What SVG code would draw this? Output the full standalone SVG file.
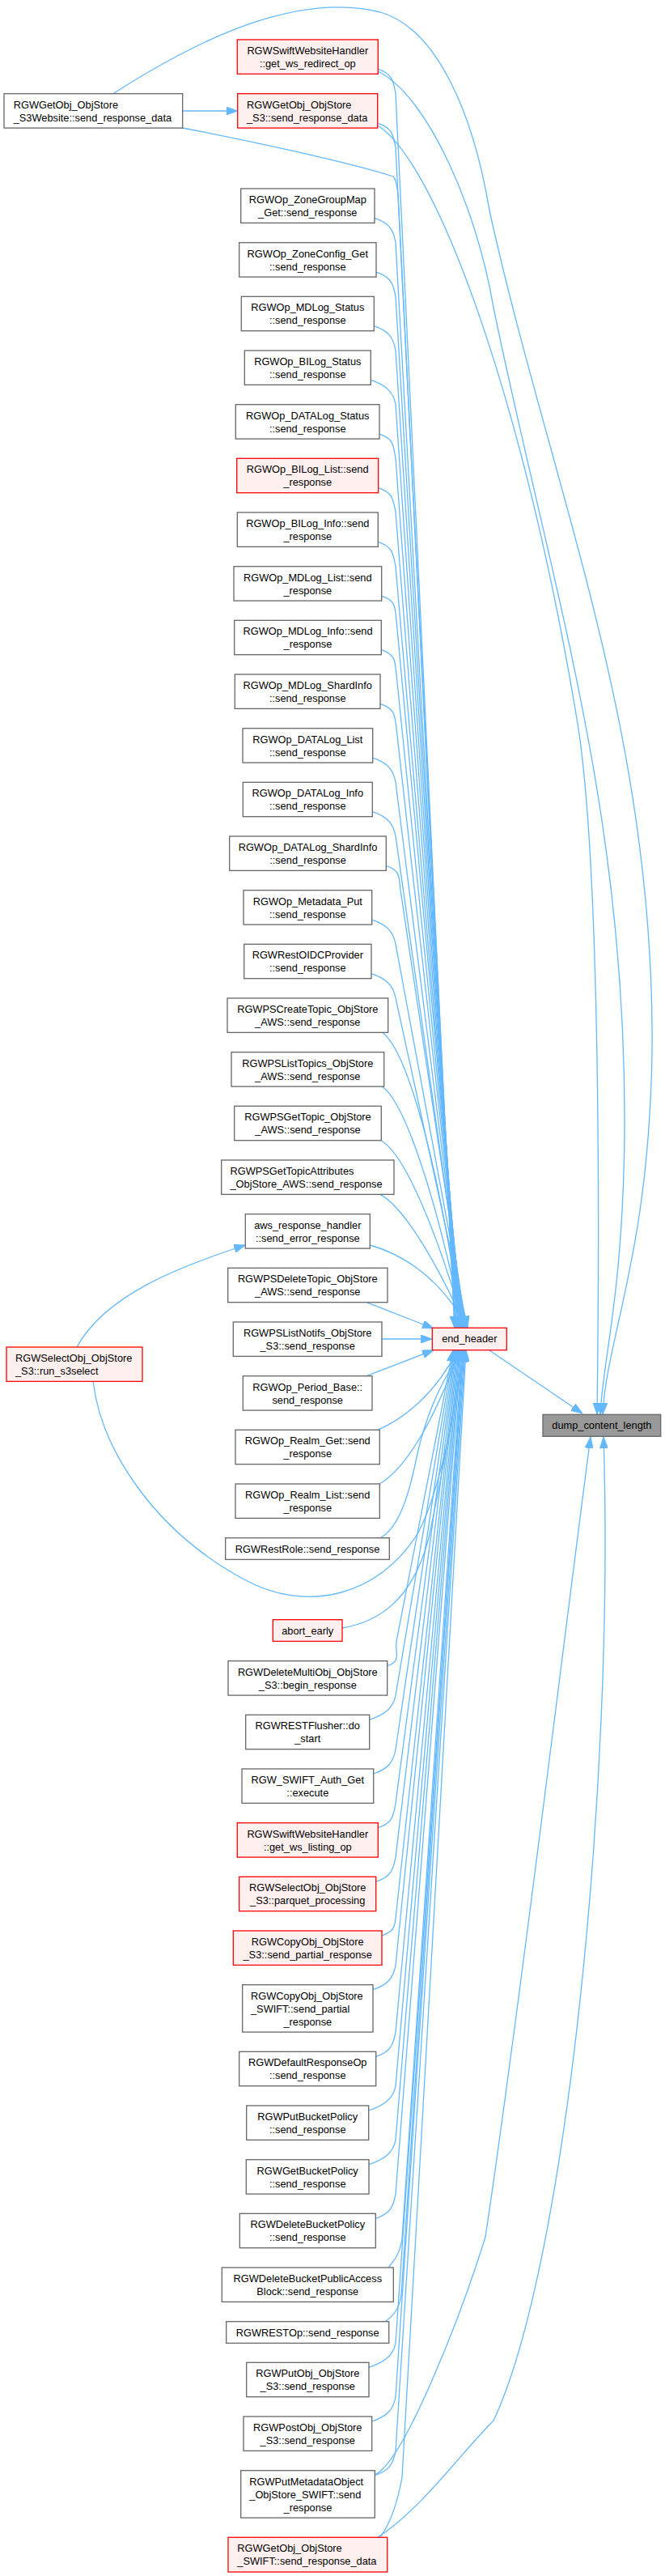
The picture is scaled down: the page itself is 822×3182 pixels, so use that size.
<svg xmlns="http://www.w3.org/2000/svg" width="822" height="3182" viewBox="0 0 822 3182">
<style>
rect{stroke-width:1.3}
.n rect{fill:#fff;stroke:#666}
.r rect{fill:#fff0f0;stroke:#f00}
.root rect{fill:#999;stroke:#666}
text{font-family:"Liberation Sans",Arial,sans-serif;font-size:12.8px;fill:#000}
.c{text-anchor:middle}
#edges path{fill:none;stroke:#63b8ff;stroke-width:1.3;marker-end:url(#ah)}
</style>
<defs>
<marker id="ah" viewBox="0 0 14 10" refX="14" refY="5" markerWidth="14" markerHeight="10" markerUnits="userSpaceOnUse" orient="auto"><path d="M0,0 L14,5 L0,10 z" fill="#63b8ff" stroke="#63b8ff" stroke-width="1"/></marker>
</defs>
<rect x="0" y="0" width="822" height="3182" fill="#fff"/>
<g id="edges">
<path d="M225.7,137 L293.7,137"/>
<path d="M220,157 C300,172 430,200 486,218 C490,222 491,230 492,240 L562,1640"/>
<path d="M140,115.7 C250,45 370,-10 470,15 C540,35 585,140 605,260 C680,600 810,900 806,1300 C802,1550 750,1650 745,1747"/>
<path d="M467.3,88 C530,120 590,260 610,380 C680,720 775,1000 772,1400 C770,1600 745,1680 742,1747"/>
<path d="M466.7,155 C540,200 650,500 715,900 C745,1100 740,1600 738,1747"/>
<path d="M467.3,85.4 C485.3,91.4 486,99.4 489,115.4 L562,1640"/>
<path d="M466.7,152.1 C484.7,158.1 486,166.1 489,182.1 L563,1640"/>
<path d="M463,269.4 C481,275.4 486,283.4 489,299.4 L564,1640"/>
<path d="M465,336.1 C483,342.1 486,350.1 489,366.1 L565,1640"/>
<path d="M462.3,402.7 C480.3,408.7 486,416.7 489,432.7 L566,1640"/>
<path d="M458.3,469.4 C476.3,475.4 486,483.4 489,499.4 L567,1640"/>
<path d="M469,536.1 C487,542.1 486,550.1 489,566.1 L568,1640"/>
<path d="M467.7,602.7 C485.7,608.7 486,616.7 489,632.7 L569,1640"/>
<path d="M467.3,669.4 C485.3,675.4 486,683.4 489,699.4 L570,1640"/>
<path d="M471.7,736.1 C489.7,742.1 488,750.1 490,766.1 L571,1640"/>
<path d="M471.3,802.7 C489.3,808.7 488,816.7 490,832.7 L572,1640"/>
<path d="M470,869.4 C488,875.4 488,883.4 490,899.4 L573,1640"/>
<path d="M460.7,936.1 C478.7,942.1 486,950.1 489,966.1 L574,1640"/>
<path d="M460.3,1002.7 C478.3,1008.7 486,1016.7 489,1032.7 L575,1640"/>
<path d="M477.3,1069.4 C495.3,1075.4 493,1083.4 495,1099.4 L576,1640"/>
<path d="M459.7,1136.1 C477.7,1142.1 486,1150.1 489,1166.1 L577,1640"/>
<path d="M459,1202.7 C477,1208.7 486,1216.7 489,1232.7 L578,1640"/>
<path d="M473,1275.4 C505,1300 545,1450 570,1640"/>
<path d="M472,1342 C500,1360 540,1480 572,1640"/>
<path d="M471,1408.7 C500,1425 540,1520 574,1640"/>
<path d="M470,1475.4 C500,1492 540,1560 576,1640"/>
<path d="M457.3,1538 C500,1550 545,1580 578,1640"/>
<path d="M453,1608.7 L536,1641"/>
<path d="M472,1654 L534.3,1654"/>
<path d="M453,1699.7 L536,1667.7"/>
<path d="M467,1766.3 C500,1752 540,1720 565,1668"/>
<path d="M469.3,1833 C500,1815 535,1760 568,1668"/>
<path d="M470,1899.7 C492,1888 505,1850 515,1800 C528,1740 550,1700 571,1668"/>
<path d="M95,1664 C130,1600 220,1565 303.3,1538"/>
<path d="M115,1706 C125,1790 190,1890 300,1950 C380,1995 470,1970 517,1893 C545,1840 562,1740 574,1668"/>
<path d="M423,2011 C470,2003 510,1975 530,1900 C545,1830 560,1740 576,1668"/>
<path d="M478.7,2057.7 C496.7,2051.7 488,2043.7 490,2027.7 L560,1668"/>
<path d="M456.7,2124.3 C474.7,2118.3 486,2110.3 489,2094.3 L561,1668"/>
<path d="M461.7,2191 C479.7,2185 486,2177 489,2161 L562,1668"/>
<path d="M467.3,2257.7 C485.3,2251.7 486,2243.7 489,2227.7 L563,1668"/>
<path d="M464.7,2324.3 C482.7,2318.3 486,2310.3 489,2294.3 L564,1668"/>
<path d="M472,2391 C490,2385 488,2377 490,2361 L565,1668"/>
<path d="M461,2457.7 C479,2451.7 486,2443.7 489,2427.7 L566,1668"/>
<path d="M464.7,2540.3 C482.7,2534.3 486,2526.3 489,2510.3 L567,1668"/>
<path d="M455.7,2607 C473.7,2601 486,2593 489,2577 L568,1668"/>
<path d="M456,2673.7 C474,2667.7 486,2659.7 489,2643.7 L569,1668"/>
<path d="M464.3,2740.3 C482.3,2734.3 486,2726.3 489,2710.3 L570,1668"/>
<path d="M480,2801 C490,2790 495,2780 497,2765 L571,1668"/>
<path d="M476,2867.7 C488,2860 494,2850 496,2835 L572,1668"/>
<path d="M456,2924.3 C474,2918.3 486,2910.3 489,2894.3 L573,1668"/>
<path d="M459.7,2991 C477.7,2985 486,2977 489,2961 L574,1668"/>
<path d="M463.3,3057.7 C481.3,3051.7 486,3043.7 489,3027.7 L575,1668"/>
<path d="M470,3134.3 C480,3120 490,3100 497,3060 L576,1668"/>
<path d="M605,1668 L720,1746"/>
<path d="M467,3134 C520,3100 570,3030 610,2990 C700,2800 760,2200 746,1775"/>
<path d="M463.3,3057 C500,3040 570,2860 600,2763 C640,2500 700,2000 730,1775"/>
</g>
<g id="L1" class="n"><rect x="5" y="115.7" width="220.7" height="42.4"/><text x="16.7" y="133.5">RGWGetObj_ObjStore</text><text x="16.7" y="149.5">_S3Website::send_response_data</text></g>
<g id="L2" class="r"><rect x="8" y="1664" width="168" height="42.4"/><text x="19" y="1681.8">RGWSelectObj_ObjStore</text><text x="19" y="1697.8">_S3::run_s3select</text></g>
<g id="n1" class="r"><rect x="293.3" y="49" width="174" height="42.4"/><text class="c" x="380.3" y="66.8">RGWSwiftWebsiteHandler</text><text class="c" x="380.3" y="82.8">::get_ws_redirect_op</text></g>
<g id="n2" class="r"><rect x="293.7" y="115.7" width="173" height="42.4"/><text x="305" y="133.5">RGWGetObj_ObjStore</text><text x="305" y="149.5">_S3::send_response_data</text></g>
<g id="n3" class="n"><rect x="297.7" y="233" width="165.3" height="42.4"/><text class="c" x="380.3" y="250.8">RGWOp_ZoneGroupMap</text><text class="c" x="380.3" y="266.8">_Get::send_response</text></g>
<g id="n4" class="n"><rect x="295.7" y="299.7" width="169.3" height="42.4"/><text class="c" x="380.3" y="317.5">RGWOp_ZoneConfig_Get</text><text class="c" x="380.3" y="333.5">::send_response</text></g>
<g id="n5" class="n"><rect x="298.3" y="366.3" width="164" height="42.4"/><text class="c" x="380.3" y="384.1">RGWOp_MDLog_Status</text><text class="c" x="380.3" y="400.1">::send_response</text></g>
<g id="n6" class="n"><rect x="302.3" y="433" width="156" height="42.4"/><text class="c" x="380.3" y="450.8">RGWOp_BILog_Status</text><text class="c" x="380.3" y="466.8">::send_response</text></g>
<g id="n7" class="n"><rect x="291.3" y="499.7" width="177.7" height="42.4"/><text class="c" x="380.2" y="517.5">RGWOp_DATALog_Status</text><text class="c" x="380.2" y="533.5">::send_response</text></g>
<g id="n8" class="r"><rect x="292.7" y="566.3" width="175" height="42.4"/><text class="c" x="380.2" y="584.1">RGWOp_BILog_List::send</text><text class="c" x="380.2" y="600.1">_response</text></g>
<g id="n9" class="n"><rect x="293.3" y="633" width="174" height="42.4"/><text class="c" x="380.3" y="650.8">RGWOp_BILog_Info::send</text><text class="c" x="380.3" y="666.8">_response</text></g>
<g id="n10" class="n"><rect x="289" y="699.7" width="182.7" height="42.4"/><text class="c" x="380.3" y="717.5">RGWOp_MDLog_List::send</text><text class="c" x="380.3" y="733.5">_response</text></g>
<g id="n11" class="n"><rect x="289.7" y="766.3" width="181.6" height="42.4"/><text class="c" x="380.5" y="784.1">RGWOp_MDLog_Info::send</text><text class="c" x="380.5" y="800.1">_response</text></g>
<g id="n12" class="n"><rect x="290.3" y="833" width="179.7" height="42.4"/><text class="c" x="380.2" y="850.8">RGWOp_MDLog_ShardInfo</text><text class="c" x="380.2" y="866.8">::send_response</text></g>
<g id="n13" class="n"><rect x="300" y="899.7" width="160.7" height="42.4"/><text class="c" x="380.3" y="917.5">RGWOp_DATALog_List</text><text class="c" x="380.3" y="933.5">::send_response</text></g>
<g id="n14" class="n"><rect x="300.3" y="966.3" width="160" height="42.4"/><text class="c" x="380.3" y="984.1">RGWOp_DATALog_Info</text><text class="c" x="380.3" y="1000.1">::send_response</text></g>
<g id="n15" class="n"><rect x="283.7" y="1033" width="193.6" height="42.4"/><text class="c" x="380.5" y="1050.8">RGWOp_DATALog_ShardInfo</text><text class="c" x="380.5" y="1066.8">::send_response</text></g>
<g id="n16" class="n"><rect x="301" y="1099.7" width="158.7" height="42.4"/><text class="c" x="380.3" y="1117.5">RGWOp_Metadata_Put</text><text class="c" x="380.3" y="1133.5">::send_response</text></g>
<g id="n17" class="n"><rect x="301.7" y="1166.3" width="157.3" height="42.4"/><text class="c" x="380.3" y="1184.1">RGWRestOIDCProvider</text><text class="c" x="380.3" y="1200.1">::send_response</text></g>
<g id="n18" class="n"><rect x="281" y="1233" width="198.7" height="42.4"/><text class="c" x="380.3" y="1250.8">RGWPSCreateTopic_ObjStore</text><text class="c" x="380.3" y="1266.8">_AWS::send_response</text></g>
<g id="n19" class="n"><rect x="286" y="1299.7" width="188.7" height="42.4"/><text class="c" x="380.3" y="1317.5">RGWPSListTopics_ObjStore</text><text class="c" x="380.3" y="1333.5">_AWS::send_response</text></g>
<g id="n20" class="n"><rect x="289.7" y="1366.3" width="181.6" height="42.4"/><text class="c" x="380.5" y="1384.1">RGWPSGetTopic_ObjStore</text><text class="c" x="380.5" y="1400.1">_AWS::send_response</text></g>
<g id="n21" class="n"><rect x="273.7" y="1433" width="213.3" height="42.4"/><text x="284.5" y="1450.8">RGWPSGetTopicAttributes</text><text x="284.5" y="1466.8">_ObjStore_AWS::send_response</text></g>
<g id="n22" class="n"><rect x="303.3" y="1499.7" width="154" height="42.4"/><text class="c" x="380.3" y="1517.5">aws_response_handler</text><text class="c" x="380.3" y="1533.5">::send_error_response</text></g>
<g id="n23" class="n"><rect x="281.7" y="1566.3" width="197.3" height="42.4"/><text class="c" x="380.3" y="1584.1">RGWPSDeleteTopic_ObjStore</text><text class="c" x="380.3" y="1600.1">_AWS::send_response</text></g>
<g id="n24" class="n"><rect x="288.3" y="1633" width="183.7" height="42.4"/><text class="c" x="380.2" y="1650.8">RGWPSListNotifs_ObjStore</text><text class="c" x="380.2" y="1666.8">_S3::send_response</text></g>
<g id="n25" class="n"><rect x="300.3" y="1699.7" width="159.7" height="42.4"/><text class="c" x="380.2" y="1717.5">RGWOp_Period_Base::</text><text class="c" x="380.2" y="1733.5">send_response</text></g>
<g id="n26" class="n"><rect x="291" y="1766.3" width="178.3" height="42.4"/><text class="c" x="380.2" y="1784.1">RGWOp_Realm_Get::send</text><text class="c" x="380.2" y="1800.1">_response</text></g>
<g id="n27" class="n"><rect x="291" y="1833" width="178.3" height="42.4"/><text class="c" x="380.2" y="1850.8">RGWOp_Realm_List::send</text><text class="c" x="380.2" y="1866.8">_response</text></g>
<g id="n28" class="n"><rect x="278.7" y="1899.7" width="202.6" height="26.7"/><text class="c" x="380" y="1918">RGWRestRole::send_response</text></g>
<g id="n29" class="r"><rect x="337.3" y="2000.7" width="85.7" height="26.7"/><text class="c" x="380.2" y="2019">abort_early</text></g>
<g id="n30" class="n"><rect x="282" y="2051.7" width="196.7" height="42.4"/><text class="c" x="380.3" y="2069.5">RGWDeleteMultiObj_ObjStore</text><text class="c" x="380.3" y="2085.5">_S3::begin_response</text></g>
<g id="n31" class="n"><rect x="303.7" y="2118.3" width="153" height="42.4"/><text class="c" x="380.2" y="2136.1">RGWRESTFlusher::do</text><text class="c" x="380.2" y="2152.1">_start</text></g>
<g id="n32" class="n"><rect x="299" y="2185" width="162.7" height="42.4"/><text class="c" x="380.3" y="2202.8">RGW_SWIFT_Auth_Get</text><text class="c" x="380.3" y="2218.8">::execute</text></g>
<g id="n33" class="r"><rect x="293.3" y="2251.7" width="174" height="42.4"/><text class="c" x="380.3" y="2269.5">RGWSwiftWebsiteHandler</text><text class="c" x="380.3" y="2285.5">::get_ws_listing_op</text></g>
<g id="n34" class="r"><rect x="295.7" y="2318.3" width="169" height="42.4"/><text class="c" x="380.2" y="2336.1">RGWSelectObj_ObjStore</text><text class="c" x="380.2" y="2352.1">_S3::parquet_processing</text></g>
<g id="n35" class="r"><rect x="288.3" y="2385" width="183.7" height="42.4"/><text class="c" x="380.2" y="2402.8">RGWCopyObj_ObjStore</text><text class="c" x="380.2" y="2418.8">_S3::send_partial_response</text></g>
<g id="n36" class="n"><rect x="299.7" y="2451.7" width="161.3" height="58.4"/><text x="310" y="2469.5">RGWCopyObj_ObjStore</text><text x="310" y="2485.5">_SWIFT::send_partial</text><text class="c" x="380.3" y="2501.5">_response</text></g>
<g id="n37" class="n"><rect x="295.7" y="2534.3" width="169" height="42.4"/><text class="c" x="380.2" y="2552.1">RGWDefaultResponseOp</text><text class="c" x="380.2" y="2568.1">::send_response</text></g>
<g id="n38" class="n"><rect x="304.7" y="2601" width="151" height="42.4"/><text class="c" x="380.2" y="2618.8">RGWPutBucketPolicy</text><text class="c" x="380.2" y="2634.8">::send_response</text></g>
<g id="n39" class="n"><rect x="304.3" y="2667.7" width="151.7" height="42.4"/><text class="c" x="380.2" y="2685.5">RGWGetBucketPolicy</text><text class="c" x="380.2" y="2701.5">::send_response</text></g>
<g id="n40" class="n"><rect x="296.3" y="2734.3" width="168" height="42.4"/><text class="c" x="380.3" y="2752.1">RGWDeleteBucketPolicy</text><text class="c" x="380.3" y="2768.1">::send_response</text></g>
<g id="n41" class="n"><rect x="274.3" y="2801" width="212" height="42.4"/><text class="c" x="380.3" y="2818.8">RGWDeleteBucketPublicAccess</text><text class="c" x="380.3" y="2834.8">Block::send_response</text></g>
<g id="n42" class="n"><rect x="279.7" y="2867.7" width="201" height="26.7"/><text class="c" x="380.2" y="2886">RGWRESTOp::send_response</text></g>
<g id="n43" class="n"><rect x="304.7" y="2918.3" width="151.3" height="42.4"/><text class="c" x="380.3" y="2936.1">RGWPutObj_ObjStore</text><text class="c" x="380.3" y="2952.1">_S3::send_response</text></g>
<g id="n44" class="n"><rect x="301" y="2985" width="158.7" height="42.4"/><text class="c" x="380.3" y="3002.8">RGWPostObj_ObjStore</text><text class="c" x="380.3" y="3018.8">_S3::send_response</text></g>
<g id="n45" class="n"><rect x="297.7" y="3051.7" width="165.6" height="58.4"/><text x="308.3" y="3069.5">RGWPutMetadataObject</text><text x="308.3" y="3085.5">_ObjStore_SWIFT::send</text><text class="c" x="380.5" y="3101.5">_response</text></g>
<g id="n46" class="r"><rect x="282" y="3134.3" width="196.7" height="42.7"/><text x="293.3" y="3152.1">RGWGetObj_ObjStore</text><text x="293.3" y="3168.1">_SWIFT::send_response_data</text></g>
<g id="end_header" class="r"><rect x="534.3" y="1640.3" width="92" height="27.4"/><text class="c" x="580.3" y="1658.3">end_header</text></g>
<g id="dump_content_length" class="root"><rect x="671" y="1747.3" width="145.7" height="27"/><text class="c" x="743.9" y="1765.3">dump_content_length</text></g>
</svg>
